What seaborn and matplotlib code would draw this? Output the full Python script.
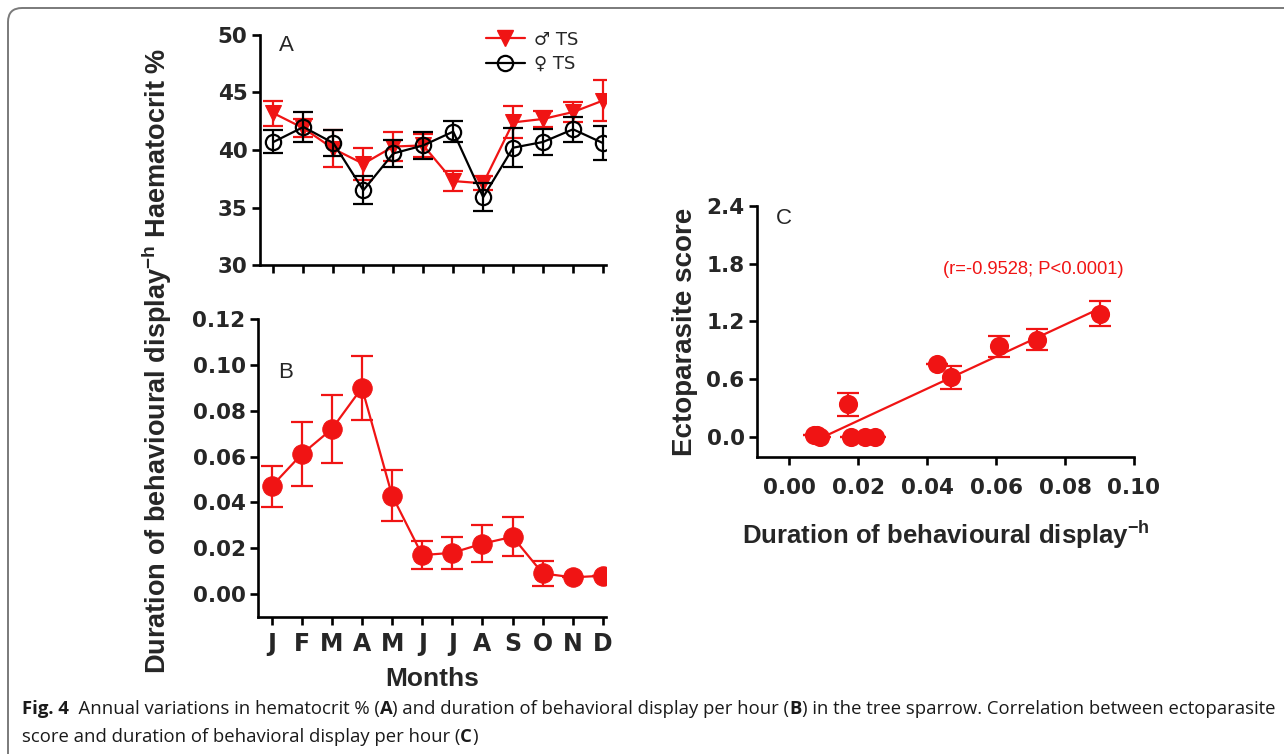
import numpy as np
import pandas as pd
import matplotlib
matplotlib.use("Agg")
import matplotlib.pyplot as plt
import seaborn as sns
from matplotlib.lines import Line2D
from matplotlib.patches import FancyBboxPatch

# Data
months = ["J", "F", "M", "A", "M", "J", "J", "A", "S", "O", "N", "D"]

# Panel A - haematocrit %
male_hct = [43.2, 41.9, 40.1, 38.8, 40.3, 40.4, 37.3, 37.1, 42.4, 42.7, 43.3, 44.3]
male_hct_err = [1.1, 0.8, 1.6, 1.4, 1.3, 1.0, 0.9, 0.6, 1.4, 0.7, 0.9, 1.8]
female_hct = [40.7, 42.0, 40.6, 36.5, 39.7, 40.4, 41.6, 35.9, 40.2, 40.7, 41.8, 40.6]
female_hct_err = [1.0, 1.3, 1.1, 1.2, 1.2, 1.2, 0.9, 1.2, 1.7, 1.1, 1.1, 1.5]

# Panel B - duration of behavioural display per hour
display_mean = [0.047, 0.061, 0.072, 0.090, 0.043, 0.017, 0.018, 0.022, 0.025, 0.009, 0.0073, 0.008]
display_err = [0.009, 0.014, 0.015, 0.014, 0.011, 0.006, 0.007, 0.008, 0.0085, 0.0055, 0.0, 0.0]

# Panel C - ectoparasite score vs display duration
ecto_score = [0.62, 0.94, 1.01, 1.28, 0.76, 0.34, 0.0, 0.0, 0.0, 0.0, 0.02, 0.02]
ecto_err = [0.12, 0.11, 0.11, 0.13, 0.0, 0.12, 0.0, 0.0, 0.0, 0.0, 0.0, 0.0]

RED = "#f01414"

df_a = pd.DataFrame({"m": range(12), "male": male_hct, "female": female_hct})
df_b = pd.DataFrame({"m": range(12), "dur": display_mean})
df_c = pd.DataFrame({"dur": display_mean, "score": ecto_score})

sns.set_style("ticks")
plt.rcParams["font.family"] = ["Liberation Sans", "DejaVu Sans"]
plt.rcParams["mathtext.fontset"] = "custom"
plt.rcParams["mathtext.bf"] = "Liberation Sans:bold"
plt.rcParams["mathtext.rm"] = "Liberation Sans"

fig = plt.figure(figsize=(12.84, 7.54), dpi=100)
W, H = 1284, 754


def px_axes(left, top, right, bottom):
    return fig.add_axes([left / W, 1 - bottom / H, (right - left) / W, (bottom - top) / H])


def style(ax):
    sns.despine(ax=ax)
    for s in ["left", "bottom"]:
        ax.spines[s].set_linewidth(1.9)
        ax.spines[s].set_color("black")
    ax.tick_params(width=1.9, length=6, color="black", labelsize=15.5, pad=3)
    for lab in ax.get_xticklabels() + ax.get_yticklabels():
        lab.set_fontweight("bold")
        lab.set_family("DejaVu Sans")


# ---- Panel A
axA = px_axes(260, 35, 606, 265)
axA.errorbar(range(12), male_hct, yerr=male_hct_err, fmt="none", ecolor=RED,
             elinewidth=1.6, capsize=7, capthick=1.6)
sns.lineplot(data=df_a, x="m", y="male", ax=axA, color=RED, lw=1.6,
             marker="v", markersize=11, markeredgecolor=RED)
axA.errorbar(range(12), female_hct, yerr=female_hct_err, fmt="none", ecolor="black",
             elinewidth=1.6, capsize=7, capthick=1.6)
sns.lineplot(data=df_a, x="m", y="female", ax=axA, color="black", lw=1.6,
             marker="o", markersize=11, markerfacecolor="none",
             markeredgecolor="black", markeredgewidth=1.6)
axA.set_xlim(-0.45, 11.1)
axA.set_ylim(30, 50)
axA.set_yticks([30, 35, 40, 45, 50])
axA.set_xticks(range(12))
axA.set_xticklabels([])
axA.set_xlabel("")
axA.set_ylabel("")
style(axA)
axA.text(0.075, 0.955, "A", transform=axA.transAxes, fontsize=16, va="center", ha="center")
handles = [
    Line2D([], [], color=RED, lw=1.6, marker="v", markersize=11),
    Line2D([], [], color="black", lw=1.6, marker="o", markersize=11,
           markerfacecolor="none", markeredgewidth=1.6),
]
axA.legend(handles, ["♂ TS", "♀ TS"], loc="upper left", bbox_to_anchor=(0.605, 1.09),
           frameon=False, handlelength=2.2, labelspacing=0.35,
           handletextpad=0.5, prop={"family": ["DejaVu Sans"], "size": 13})

# ---- Panel B
axB = px_axes(258, 319, 606, 617)
axB.errorbar(range(12), display_mean, yerr=display_err, fmt="none", ecolor=RED,
             elinewidth=1.6, capsize=8, capthick=1.6)
sns.lineplot(data=df_b, x="m", y="dur", ax=axB, color=RED, lw=1.6,
             marker="o", markersize=14, markeredgecolor=RED)
axB.set_xlim(-0.45, 11.1)
axB.set_ylim(-0.01, 0.12)
axB.set_yticks(np.arange(0, 0.121, 0.02))
axB.yaxis.set_major_formatter(matplotlib.ticker.FormatStrFormatter("%.2f"))
axB.set_xticks(range(12))
axB.set_xticklabels(months)
axB.set_xlabel("Months", fontsize=19, fontweight="bold", labelpad=8)
axB.set_ylabel("")
style(axB)
axB.tick_params(axis="x", pad=5, labelsize=17)
axB.text(0.08, 0.82, "B", transform=axB.transAxes, fontsize=16, va="center", ha="center")

# ---- Panel C
axC = px_axes(757, 206, 1134, 457)
axC.errorbar(display_mean, ecto_score, yerr=ecto_err, fmt="none", ecolor=RED,
             elinewidth=1.6, capsize=8, capthick=1.6)
sns.regplot(data=df_c, x="dur", y="score", ax=axC, scatter=False, ci=None,
            color=RED, line_kws={"lw": 1.6})
sns.scatterplot(data=df_c, x="dur", y="score", ax=axC, color=RED, s=190,
                edgecolor=RED, linewidth=0, zorder=5)
axC.set_xlim(-0.0093, 0.10)
axC.set_ylim(-0.21, 2.4)
axC.set_xticks(np.arange(0, 0.101, 0.02))
axC.set_yticks([0.0, 0.6, 1.2, 1.8, 2.4])
axC.xaxis.set_major_formatter(matplotlib.ticker.FormatStrFormatter("%.2f"))
axC.yaxis.set_major_formatter(matplotlib.ticker.FormatStrFormatter("%.1f"))
axC.set_xlabel(r"Duration of behavioural display$^{\mathbf{-h}}$", fontsize=18.5,
               fontweight="bold", labelpad=15)
axC.set_ylabel("Ectoparasite score", fontsize=20, fontweight="bold", labelpad=6)
style(axC)
axC.tick_params(axis="x", pad=9)
axC.text(0.07, 0.95, "C", transform=axC.transAxes, fontsize=16, va="center", ha="center")
axC.text(0.732, 0.747, "(r=-0.9528; P<0.0001)", transform=axC.transAxes, fontsize=13.2,
         color=RED, va="center", ha="center")

# shared left label
fig.text(157 / W, 1 - 361 / H, r"Duration of behavioural display$^{\mathbf{-h}}$ Haematocrit %",
         rotation=90, fontsize=19.5, fontweight="bold", va="center", ha="center")

# caption, pieces placed one after another
cap_font = {"family": "Open Sans", "size": 13.3, "color": "#1a1a1a"}
line1 = [("Fig. 4", "bold"), ("  Annual variations in hematocrit % (", "normal"), ("A", "bold"),
         (") and duration of behavioral display per hour (", "normal"), ("B", "bold"),
         (") in the tree sparrow. Correlation between ectoparasite", "normal")]
line2 = [("score and duration of behavioral display per hour (", "normal"), ("C", "bold"),
         (")", "normal")]
renderer = fig.canvas.get_renderer()
for parts, ypix in [(line1, 714), (line2, 742)]:
    xpix = 22
    for txt, wt in parts:
        t = fig.text(xpix / W, 1 - ypix / H, txt, fontweight=wt, va="baseline", **cap_font)
        xpix += t.get_window_extent(renderer).width

# frame around figure
frame = FancyBboxPatch((8, -60), 1400, 754 - 8 + 60, boxstyle="round,pad=0,rounding_size=14",
                       transform=None, fill=False, edgecolor="#7a7a7a", lw=1.4)
fig.patches.append(frame)

fig.savefig("out.png", dpi=100)
